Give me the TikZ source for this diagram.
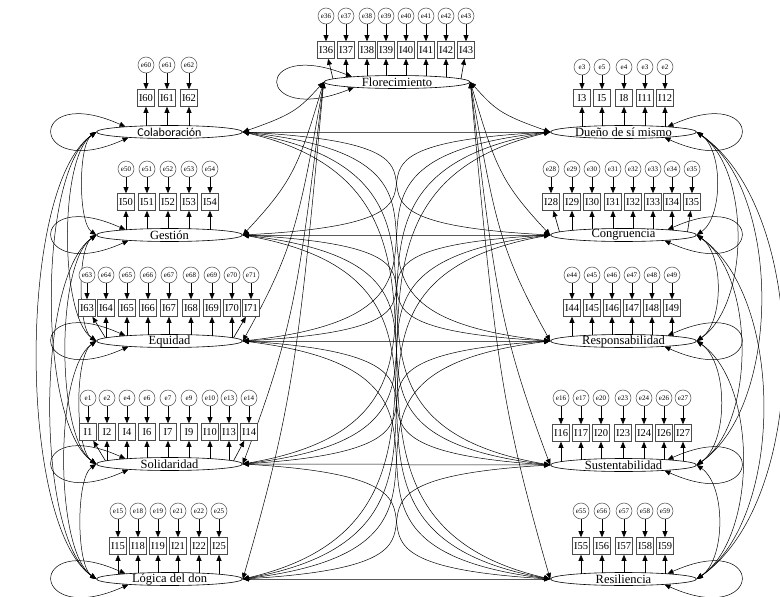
\documentclass[tikz,border=0pt]{standalone}
\usepackage{fontspec}
\setmainfont{Liberation Serif}
\newfontfamily\carl{Carlito}
\usetikzlibrary{arrows.meta,shapes.geometric}
\pgfdeclarelayer{bg}
\pgfsetlayers{bg,main}
\tikzset{
 arr/.style={-{Triangle[length=6pt,width=5pt]}, line width=0.6pt},
 cov/.style={{Triangle[length=6pt,width=5pt]}-{Triangle[length=6pt,width=5pt]}, line width=0.5pt},
 latent/.style={draw, fill=white, ellipse, minimum width=146pt, minimum height=13pt, inner sep=0pt, line width=0.6pt},
 ltext/.style={font=\fontsize{12.5}{13}\selectfont, inner sep=0pt},
 indbox/.style={draw=black!70, fill=white, minimum width=17pt, minimum height=17pt, inner sep=0pt, font=\fontsize{10.5}{11}\selectfont, line width=0.6pt},
 errc/.style={draw=black!70, fill=white, circle, minimum size=16pt, inner sep=0pt, font=\fontsize{7}{8}\selectfont, line width=0.5pt},
}
\newcommand\myblock[5]{%
 \foreach \bx/\el/\il in {#5}{%
  \pgfmathsetmacro\myddx{max(min(\bx-#1,64),-64)}%
  \pgfmathsetmacro\mysy{#2-6.5*sqrt(1-(\myddx/73)^2)}%
  \pgfmathsetmacro\mysx{#1+\myddx}%
  \node[indbox] (I\il) at (\bx,-#3) {I\il};
  \node[errc] (err\il) at (\bx,-#4) {e\el};
  \coordinate (s\il) at (\mysx,-\mysy);
  \draw[arr] (err\il) -- (I\il);
  \draw[arr] (s\il) -- (I\il);
 }}
\begin{document}
\begin{tikzpicture}[x=1pt,y=1pt]
\useasboundingbox (0,0) rectangle (780,-597);
% latent variables
\node[latent] (F) at (397,-82) {};
\node[ltext] (Ft) at (F) {Florecimiento};
\node[latent] (Col) at (169.5,-132) {};
\node[ltext,font=\carl\fontsize{12}{13}\selectfont] (Colx) at (Col) {Colaboración};
\node[latent] (Ges) at (169.5,-235) {};
\node[ltext] (Gesx) at (Ges) {Gestión};
\node[latent] (Equ) at (169.5,-341) {};
\node[ltext] (Equx) at (Equ) {Equidad};
\node[latent] (Sol) at (169.5,-464) {};
\node[ltext] (Solx) at (Sol) {Solidaridad};
\node[latent] (Log) at (169.5,-579) {};
\node[ltext] (Logx) at (Log) {Lógica del don};
\node[latent] (Due) at (623.5,-132) {};
\node[ltext] (Duex) at (Due) {Dueño de sí mismo};
\node[latent] (Con) at (623.5,-235) {};
\node[ltext] (Conx) at (Con) {Congruencia};
\node[latent] (Resp) at (623.5,-341) {};
\node[ltext] (Respx) at (Resp) {Responsabilidad};
\node[latent] (Sus) at (623.5,-465) {};
\node[ltext] (Susx) at (Sus) {Sustentabilidad};
\node[latent] (Resi) at (623.5,-579) {};
\node[ltext] (Resix) at (Resi) {Resiliencia};
% indicators
\myblock{397}{82}{50}{16}{326/36/36,346/37/37,367/38/38,386/39/39,406/40/40,426/41/41,446/42/42,466/43/43}
\myblock{169.5}{132}{98}{65}{146/60/60,167/61/61,189/62/62}
\myblock{169.5}{235}{202}{169}{126/50/50,147/51/51,168/52/52,189/53/53,210/54/54}
\myblock{169.5}{341}{308}{275}{87/63/63,106/64/64,127/65/65,148/66/66,169/67/67,191/68/68,212/69/69,232/70/70,251/71/71}
\myblock{169.5}{464}{432}{398}{88/1/1,107/2/2,127/4/4,147/6/6,168/7/7,189/9/9,210/10/10,229/13/13,249/14/14}
\myblock{169.5}{579}{546}{511}{118/15/15,138/18/18,158/19/19,178/21/21,199/22/22,219/25/25}
\myblock{623.5}{132}{98}{67}{582/3/3,602/5/5,624/4/8,645/3/11,665/2/12}
\myblock{623.5}{235}{202}{169}{551/28/28,572/29/29,592/30/30,613/31/31,633/32/32,653/33/33,672/34/34,692/35/35}
\myblock{623.5}{341}{308}{275}{572/44/44,592/45/45,612/46/46,632/47/47,652/48/48,672/49/49}
\myblock{623.5}{465}{433}{398}{561/16/16,581/17/17,601/20/20,623/23/23,644/24/24,664/26/26,683/27/27}
\myblock{623.5}{579}{546}{511}{581/55/55,602/56/56,624/57/57,645/58/58,665/59/59}
% covariances
\begin{pgfonlayer}{bg}
% loops
\coordinate (Ftop) at (352,-76.8);
\coordinate (Fbot) at (354,-87.5);
\draw[cov] (Ftop) .. controls +(-100,40) and +(-100,-40) .. (Fbot);
\foreach \n/\y in {Col/132,Ges/235,Equ/341,Sol/464,Log/579}{
  \coordinate (\n t) at (125.5,-\y+5.2);
  \coordinate (\n b) at (128.5,-\y-5.5);
  \draw[cov] (\n t) .. controls +(-100,45) and +(-100,-45) .. (\n b);
}
\foreach \n/\y in {Due/132,Con/235,Resp/341,Sus/465,Resi/579}{
  \coordinate (\n t) at (667.5,-\y+5.2);
  \coordinate (\n b) at (664.5,-\y-5.5);
  \draw[cov] (\n t) .. controls +(100,45) and +(100,-45) .. (\n b);
}
% left-left
\foreach \a [count=\i] in {Col,Ges,Equ,Sol,Log}{
  \foreach \b [count=\j] in {Col,Ges,Equ,Sol,Log}{
    \ifnum\j>\i \draw[cov] (\a.west) to[out=215,in=145,looseness=0.55] (\b.west); \fi
  }
}
% right-right
\foreach \a [count=\i] in {Due,Con,Resp,Sus,Resi}{
  \foreach \b [count=\j] in {Due,Con,Resp,Sus,Resi}{
    \ifnum\j>\i \draw[cov] (\a.east) to[out=-35,in=35,looseness=0.8] (\b.east); \fi
  }
}
% left-right
\foreach \a/\ya in {Col/132,Ges/235,Equ/341,Sol/464,Log/579}{
  \foreach \b/\yb in {Due/132,Con/235,Resp/341,Sus/465,Resi/579}{
    \pgfmathsetmacro\kp{0.15*(\yb-\ya)}
    \pgfmathsetmacro\kn{-0.15*(\yb-\ya)}
    \draw[cov] (\a.east) .. controls +(290,\kn) and +(-290,\kp) .. (\b.west);
  }
}
% Florecimiento to all
\foreach \a/\d in {Col/50,Ges/153,Equ/259,Sol/382,Log/497}{
  \pgfmathsetmacro\pa{-0.55*\d}
  \pgfmathsetmacro\pb{0.35*\d}
  \draw[cov] (F.west) .. controls +(-25,\pa) and +(50,\pb) .. (\a.east);
}
\foreach \a/\d in {Due/50,Con/153,Resp/259,Sus/383,Resi/497}{
  \pgfmathsetmacro\pa{-0.55*\d}
  \pgfmathsetmacro\pb{0.35*\d}
  \draw[cov] (F.east) .. controls +(25,\pa) and +(-50,\pb) .. (\a.west);
}
\end{pgfonlayer}
\end{tikzpicture}
\end{document}
